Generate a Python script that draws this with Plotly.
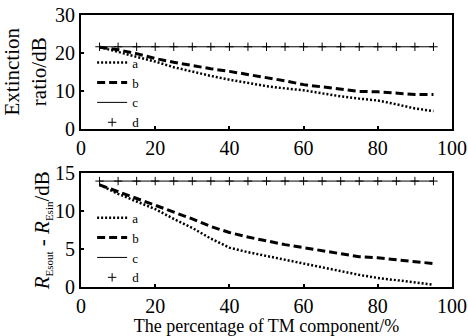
import plotly.graph_objects as go
from plotly.subplots import make_subplots

x_pct = [5, 10, 15, 20, 25, 30, 35, 40, 45, 50, 55, 60, 65, 70, 75, 80, 85, 90, 95]

# Top panel: extinction ratio (dB)
ext_a = [21.5, 20.3, 19.0, 17.7, 16.2, 15.0, 13.9, 12.9, 12.0, 11.2, 10.6, 10.1, 9.3, 8.5, 7.9, 7.4, 6.4, 5.3, 4.6]
ext_b = [21.5, 20.8, 19.8, 18.5, 17.5, 16.6, 15.8, 15.1, 14.3, 13.5, 12.6, 11.6, 11.0, 10.3, 9.8, 9.7, 9.4, 9.0, 9.0]
ext_c = [21.6] * 19
ext_d = [21.6] * 19

# Bottom panel: R_Esout - R_Esin (dB)
dr_a = [13.5, 12.3, 11.3, 10.3, 9.0, 7.8, 6.4, 5.2, 4.6, 4.1, 3.6, 3.2, 2.6, 2.1, 1.6, 1.2, 0.9, 0.6, 0.3]
dr_b = [13.5, 12.6, 11.8, 10.9, 10.0, 9.0, 8.0, 7.2, 6.6, 6.1, 5.6, 5.2, 4.8, 4.4, 4.0, 3.85, 3.6, 3.3, 3.1]
dr_c = [14.0] * 19
dr_d = [14.0] * 19

series_names = ["a", "b", "c", "d"]
x_ticks = [0, 20, 40, 60, 80, 100]
FONT = "Liberation Serif, Times New Roman, serif"

fig = make_subplots(rows=2, cols=1, vertical_spacing=0.1654)

def add_panel(row, ya, yb, yc, yd, legend):
    fig.add_trace(go.Scatter(x=x_pct, y=ya, mode="lines", name=series_names[0],
                             line=dict(color="black", width=2.5, dash="2px,2px"),
                             legend=legend), row=row, col=1)
    fig.add_trace(go.Scatter(x=x_pct, y=yb, mode="lines", name=series_names[1],
                             line=dict(color="black", width=3, dash="8px,4px"),
                             legend=legend), row=row, col=1)
    fig.add_trace(go.Scatter(x=x_pct, y=yc, mode="lines", name=series_names[2],
                             line=dict(color="black", width=1),
                             legend=legend), row=row, col=1)
    fig.add_trace(go.Scatter(x=x_pct, y=yd, mode="markers", name=series_names[3],
                             marker=dict(symbol="cross-thin", size=6, color="black",
                                         line=dict(color="black", width=1)),
                             legend=legend), row=row, col=1)

add_panel(1, ext_a, ext_b, ext_c, ext_d, "legend")
add_panel(2, dr_a, dr_b, dr_c, dr_d, "legend2")

axis_common = dict(showline=True, linewidth=2, linecolor="black", mirror=True,
                   ticks="inside", ticklen=3, tickwidth=2, tickcolor="black",
                   showgrid=False, zeroline=False, automargin=False,
                   ticklabeloverflow="allow",
                   tickfont=dict(family=FONT, size=20, color="black"))

fig.update_xaxes(range=[0, 100], tickvals=x_ticks, **axis_common)
fig.update_yaxes(**axis_common)
fig.update_yaxes(range=[0, 30], dtick=10, row=1, col=1,
                 title=dict(text="Extinction<br>ratio/dB", standoff=9,
                            font=dict(family=FONT, size=21, color="black")))
fig.update_yaxes(range=[0, 15], dtick=5, row=2, col=1,
                 title=dict(text="<i>R</i><sub><span style='font-size:11px'>Esout</span></sub> - "
                                 "<i>R</i><sub><span style='font-size:11px'>Esin</span></sub>/dB",
                            standoff=0,
                            font=dict(family=FONT, size=21, color="black")))
fig.update_xaxes(row=2, col=1,
                 title=dict(text="The percentage of TM component/%", standoff=0,
                            font=dict(family=FONT, size=18, color="black")))

legend_common = dict(bgcolor="rgba(0,0,0,0)", font=dict(family=FONT, size=13, color="black"),
                     tracegroupgap=0, itemwidth=30, xanchor="left", yanchor="top")

fig.update_layout(
    width=468, height=336,
    margin=dict(l=81, r=16, t=15, b=49, autoexpand=False),
    paper_bgcolor="white", plot_bgcolor="white",
    font=dict(family=FONT, size=16, color="black"),
    showlegend=True,
    legend=dict(x=0.03, y=0.88, **legend_common),
    legend2=dict(x=0.03, y=0.31, **legend_common),
)

fig.write_html("out.html",
               config={"displayModeBar": False},
               post_script="document.body.style.margin='0';document.body.style.overflow='hidden';")
